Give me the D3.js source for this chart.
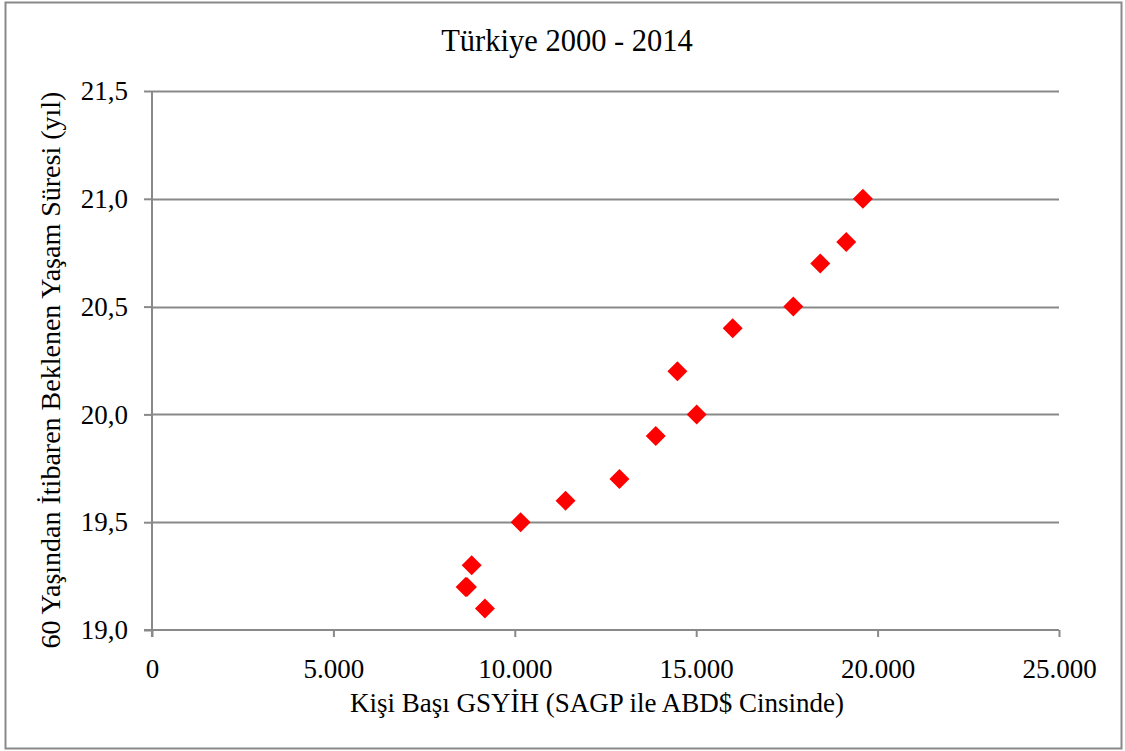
<!DOCTYPE html>
<html>
<head>
<meta charset="utf-8">
<script src="https://cdn.jsdelivr.net/npm/d3@7"></script>
<style>
  html, body { margin: 0; padding: 0; background: #fff; }
</style>
</head>
<body>
<svg id="chart" width="1125" height="751"></svg>
<script>
// Turkey 2000-2014: GDP per capita (PPP, US$) vs. life expectancy at age 60
const gdpPerCapita = [8645, 8680, 8811, 9177, 10160, 11399, 12885, 13885, 14482, 15014, 16005, 17676, 18420, 19136, 19595];
const lifeExpAt60  = [19.2, 19.2, 19.3, 19.1, 19.5, 19.6, 19.7, 19.9, 20.2, 20.0, 20.4, 20.5, 20.7, 20.8, 21.0];
const xTicks = [0, 5000, 10000, 15000, 20000, 25000];
const yTicks = [19.0, 19.5, 20.0, 20.5, 21.0, 21.5];
const titleText = "Türkiye 2000 - 2014";
const xLabel = "Kişi Başı GSYİH (SAGP ile ABD$ Cinsinde)";
const yLabel = "60 Yaşından İtibaren Beklenen Yaşam Süresi (yıl)";

const FONT = "Liberation Serif";
const svg = d3.select("#chart");
const gray = "#898989";
const plot = { left: 152, right: 1059, top: 91, bottom: 630 };

// outer frame
svg.append("rect")
  .attr("x", 5.5).attr("y", 2.5).attr("width", 1116).attr("height", 746)
  .attr("fill", "none").attr("stroke", gray).attr("stroke-width", 2);

const x = d3.scaleLinear().domain([0, 25000]).range([plot.left, plot.right]);
const y = d3.scaleLinear().domain([19.0, 21.5]).range([plot.bottom, plot.top]);

const fmtX = v => d3.format(",")(v).replace(/,/g, ".");
const fmtY = v => d3.format(".1f")(v).replace(".", ",");

// horizontal gridlines
svg.append("g").selectAll("line").data(yTicks.slice(1)).join("line")
  .attr("x1", plot.left).attr("x2", plot.right)
  .attr("y1", d => Math.round(y(d)) + 0.5).attr("y2", d => Math.round(y(d)) + 0.5)
  .attr("stroke", gray).attr("stroke-width", 2);

// y axis
const yAxis = svg.append("g")
  .attr("transform", `translate(${plot.left},0)`)
  .call(d3.axisLeft(y).tickValues(yTicks).tickFormat(fmtY).tickSize(8).tickPadding(16));
yAxis.select(".domain").remove();
yAxis.append("line").attr("x1", 0).attr("x2", 0).attr("y1", plot.top).attr("y2", plot.bottom + 7)
  .attr("stroke", gray).attr("stroke-width", 2);
yAxis.selectAll(".tick line").attr("stroke", gray).attr("stroke-width", 2);
yAxis.selectAll(".tick text")
  .style("font-family", FONT).style("font-size", "27px").attr("fill", "#000").attr("dy", "0.32em");

// x axis
const xAxis = svg.append("g")
  .attr("transform", `translate(0,${plot.bottom})`)
  .call(d3.axisBottom(x).tickValues(xTicks).tickFormat(fmtX).tickSize(7).tickPadding(22));
xAxis.select(".domain").remove();
xAxis.append("line").attr("x1", plot.left - 8).attr("x2", plot.right).attr("y1", 0).attr("y2", 0)
  .attr("stroke", gray).attr("stroke-width", 2);
xAxis.selectAll(".tick line").attr("stroke", gray).attr("stroke-width", 2);
xAxis.selectAll(".tick text")
  .style("font-family", FONT).style("font-size", "27px").attr("fill", "#000").attr("dy", "0.71em");

// data markers (diamonds)
svg.append("g").selectAll("path").data(gdpPerCapita.map((g, i) => [g, lifeExpAt60[i]])).join("path")
  .attr("d", d3.symbol(d3.symbolSquare, 200)())
  .attr("transform", d => `translate(${x(d[0])},${y(d[1])}) rotate(45)`)
  .attr("fill", "#ff0000");

// title
svg.append("text").attr("x", 567).attr("y", 51).attr("text-anchor", "middle")
  .style("font-family", FONT).style("font-size", "30.5px").attr("fill", "#000").text(titleText);

// axis titles
svg.append("text").attr("x", 597).attr("y", 712).attr("text-anchor", "middle")
  .style("font-family", FONT).style("font-size", "27px").attr("fill", "#000").text(xLabel);
svg.append("text").attr("transform", "translate(60,370) rotate(-90)").attr("text-anchor", "middle")
  .style("font-family", FONT).style("font-size", "28px").attr("fill", "#000").text(yLabel);
</script>
</body>
</html>
